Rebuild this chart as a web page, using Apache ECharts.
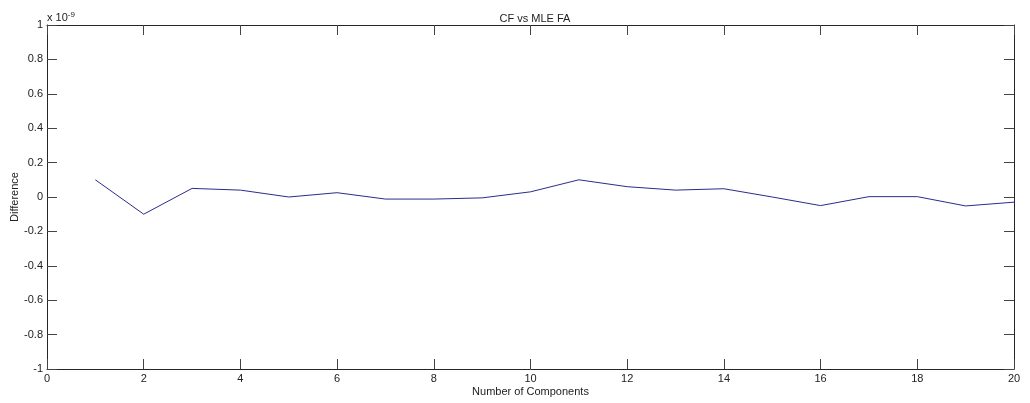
<!DOCTYPE html>
<html>
<head>
<meta charset="utf-8">
<script src="https://cdn.jsdelivr.net/npm/echarts@6/dist/echarts.min.js"></script>
<style>
html, body { margin: 0; padding: 0; background: #fff; }
#container { width: 1030px; height: 403px; }
</style>
</head>
<body>
<div id="container"></div>
<script>
var components = [1, 2, 3, 4, 5, 6, 7, 8, 9, 10, 11, 12, 13, 14, 15, 16, 17, 18, 19, 20];
// difference, in units of 1e-9
var difference = [0.1, -0.1, 0.05, 0.04, 0.0, 0.025, -0.012, -0.012, -0.005, 0.03,
    0.1, 0.06, 0.04, 0.048, 0.0, -0.05, 0.002, 0.002, -0.052, -0.03];

var dom = document.getElementById('container');
var myChart = echarts.init(dom);

var font = 'Liberation Sans, Arial, sans-serif';
var axisColor = '#262626';

var baseX = {
    type: 'value', min: 0, max: 20, interval: 2,
    axisLine: { show: true, onZero: false, lineStyle: { color: axisColor, width: 1 } },
    axisTick: { show: true, inside: true, length: 10, lineStyle: { color: '#444' } },
    splitLine: { show: false }
};
var baseY = {
    type: 'value', min: -1, max: 1, interval: 0.2,
    axisLine: { show: true, onZero: false, lineStyle: { color: axisColor, width: 1 } },
    axisTick: { show: true, inside: true, length: 10, lineStyle: { color: '#444' } },
    splitLine: { show: false }
};

var option = {
    backgroundColor: '#fff',
    animation: false,
    title: {
        text: 'CF vs MLE FA',
        left: 530, top: 8,
        textAlign: 'center',
        textStyle: { fontFamily: font, fontSize: 11, fontWeight: 'normal', color: '#222' }
    },
    grid: { left: 47, right: 16, top: 25, bottom: 34, containLabel: false, outerBoundsMode: 'none' },
    xAxis: [
        Object.assign({}, baseX, {
            position: 'bottom',
            name: 'Number of Components',
            nameLocation: 'middle',
            nameGap: 17,
            nameMoveOverlap: false,
            nameTextStyle: { fontFamily: font, fontSize: 11, color: '#222' },
            axisLabel: { show: true, margin: 4, fontFamily: font, fontSize: 11, color: '#222' }
        }),
        Object.assign({}, baseX, { position: 'top', axisLabel: { show: false } })
    ],
    yAxis: [
        Object.assign({}, baseY, {
            position: 'left',
            name: 'Difference',
            nameLocation: 'middle',
            nameGap: 27,
            nameMoveOverlap: false,
            nameTextStyle: { fontFamily: font, fontSize: 11, color: '#222' },
            axisLabel: { show: true, margin: 4, fontFamily: font, fontSize: 11, color: '#222' }
        }),
        Object.assign({}, baseY, { position: 'right', axisLabel: { show: false } })
    ],
    graphic: [{
        type: 'text',
        left: 47, top: 11,
        style: {
            text: 'x 10{sup|-9}',
            font: '11px ' + font,
            fill: '#222',
            rich: { sup: { fontSize: 8, verticalAlign: 'top', padding: [0, 0, 6, 0] } }
        }
    }],
    series: [{
        type: 'line',
        xAxisIndex: 0,
        yAxisIndex: 0,
        showSymbol: false,
        symbol: 'none',
        lineStyle: { color: '#2b2b8c', width: 1 },
        data: components.map(function (c, i) { return [c, difference[i]]; })
    }]
};

myChart.setOption(option, true);
</script>
</body>
</html>
